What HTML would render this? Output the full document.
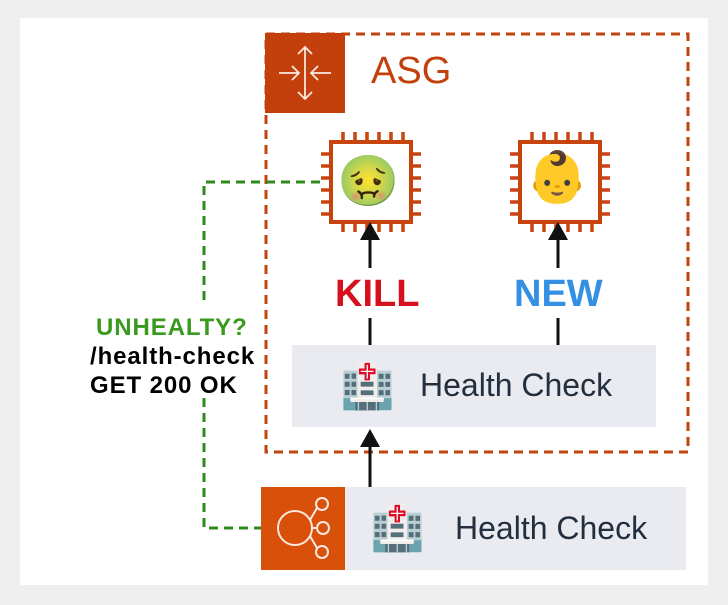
<!DOCTYPE html>
<html><head><style>
body{margin:0;width:728px;height:605px;background:#efefef;position:relative;overflow:hidden;font-family:"Liberation Sans",sans-serif}
.a{position:absolute;white-space:nowrap}
.emo{font-family:"Noto Color Emoji","DejaVu Sans",sans-serif}
</style></head><body>
<div class="a" style="left:20px;top:18px;width:688px;height:567px;background:#fff"></div>
<svg class="a" style="left:0;top:0" width="728" height="605">
<rect x="266" y="34" width="422" height="418" fill="none" stroke="#c0450f" stroke-width="3" stroke-dasharray="9,6"/>
<rect x="265" y="33" width="80" height="80" fill="#c3400c"/>
<g stroke="#fbe9df" stroke-width="1.8" fill="none">
<path d="M305 47v26M298 54l7-7 7 7M305 99v-26M298 92l7 7 7-7M279 73h20M292 66l7 7-7 7M331 73h-20M318 66l-7 7 7 7"/>
</g>
<g fill="none" stroke="#c8440f" stroke-width="4">
<rect x="331" y="142" width="80" height="80"/>
<rect x="520" y="142" width="80" height="80"/>
</g>
<g stroke="#c8440f" stroke-width="3.5">
<path d="M343 132v10M355 132v10M367 132v10M379 132v10M391 132v10M403 132v10M343 222v10M355 222v10M367 222v10M379 222v10M391 222v10M403 222v10M321 154h10M321 166h10M321 178h10M321 190h10M321 202h10M321 214h10M411 154h10M411 166h10M411 178h10M411 190h10M411 202h10M411 214h10"/>
<path d="M532 132v10M544 132v10M556 132v10M568 132v10M580 132v10M592 132v10M532 222v10M544 222v10M556 222v10M568 222v10M580 222v10M592 222v10M510 154h10M510 166h10M510 178h10M510 190h10M510 202h10M510 214h10M600 154h10M600 166h10M600 178h10M600 190h10M600 202h10M600 214h10"/>
</g>
<g stroke="#111" stroke-width="3">
<path d="M370 268v-30M370 318v28M558 268v-30M558 318v28M370 498v-58"/>
</g>
<g fill="#111">
<path d="M360 240l10-18 10 18z"/><path d="M548 240l10-18 10 18z"/><path d="M360 447l10-18 10 18z"/>
</g>
<rect x="292" y="345" width="364" height="82" fill="#e9ebf0"/>
<rect x="345" y="487" width="341" height="83" fill="#e9ebf0"/>
<rect x="261" y="487" width="84" height="83" fill="#d9500b"/>
<g fill="none" stroke="#fbe9df" stroke-width="2">
<circle cx="295" cy="528" r="17"/><circle cx="322" cy="504" r="6"/><circle cx="323" cy="528" r="6"/><circle cx="322" cy="552" r="6"/>
<path d="M310 520l7-12M312 528h5M310 536l7 12"/>
</g>
<g fill="none" stroke="#2e8b1e" stroke-width="3" stroke-dasharray="9,6">
<path d="M320 182H204V305M204 398V528H261"/>
</g>
</svg>
<div class="a emo" style="left:337px;top:152px;font-size:50px;line-height:60px">🤢</div>
<div class="a emo" style="left:526px;top:148px;font-size:50px;line-height:60px">👶</div>
<div class="a" style="left:371px;top:50px;font-size:38px;color:#c3400c">ASG</div>
<div class="a" style="left:335px;top:273px;font-size:38px;font-weight:bold;color:#d4111c">KILL</div>
<div class="a" style="left:514px;top:273px;font-size:38px;font-weight:bold;color:#3390e3">NEW</div>
<div class="a emo" style="left:340px;top:360px;font-size:44px;line-height:52px">🏥</div>
<div class="a" style="left:420px;top:367px;font-size:32px;color:#232f3e">Health Check</div>
<div class="a emo" style="left:370px;top:502px;font-size:44px;line-height:52px">🏥</div>
<div class="a" style="left:455px;top:510px;font-size:32px;color:#232f3e">Health Check</div>
<div class="a" style="left:96px;top:314px;font-size:24px;font-weight:bold;color:#3a9a1e;letter-spacing:0.9px">UNHEALTY?</div>
<div class="a" style="left:90px;top:343px;font-size:24px;font-weight:bold;color:#000;letter-spacing:0.9px">/health-check</div>
<div class="a" style="left:90px;top:372px;font-size:24px;font-weight:bold;color:#000;letter-spacing:0.9px">GET 200 OK</div>
</body></html>
